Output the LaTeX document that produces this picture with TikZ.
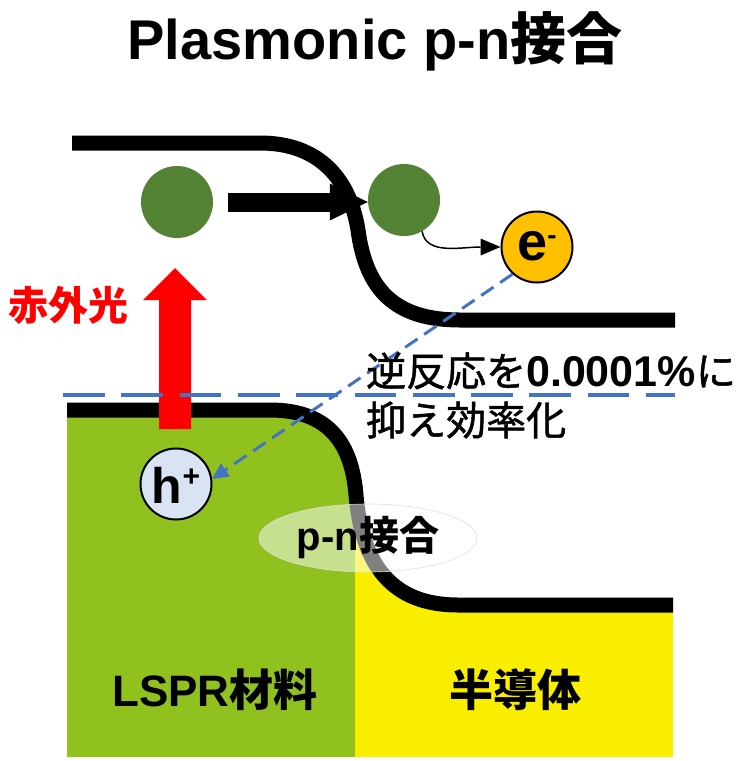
\documentclass[tikz,border=0pt]{standalone}
\usepackage{fontspec}
\setmainfont{Liberation Sans}
\newfontfamily\jp{Noto Sans CJK JP}
\newfontfamily\jpm{Noto Sans CJK JP}[FakeBold=1.2]
\usetikzlibrary{arrows.meta,shapes.geometric}
\definecolor{circgreen}{RGB}{84,130,53}
\definecolor{lsprgreen}{RGB}{144,193,31}
\definecolor{semiyellow}{RGB}{250,238,0}
\definecolor{bluec}{RGB}{68,114,196}
\definecolor{eorange}{RGB}{255,192,0}
\definecolor{hblue}{RGB}{218,227,243}
\tikzset{
  band/.style={line width=15pt, black},
  ball/.style={circle, fill=circgreen, minimum size=72pt, inner sep=0pt},
  carrier/.style={circle, draw=black, line width=2pt, minimum size=71pt, inner sep=0pt},
  blueline/.style={bluec, line width=3pt, dash pattern=on 15pt off 8pt},
}
\begin{document}
\begin{tikzpicture}[x=1pt,y=-1pt]
\useasboundingbox (0,0) rectangle (750,761);

% fills of the lower structure
\begin{scope}
  \clip (0,0) rectangle (355,761);
  \fill[lsprgreen] (67,410) -- (270,410) .. controls (330,410) and (352,445) .. (356,495)
    .. controls (362,565) and (392,605) .. (458,605) -- (673,605) -- (673,757) -- (67,757) -- cycle;
\end{scope}
\begin{scope}
  \clip (355,0) rectangle (750,761);
  \fill[semiyellow] (67,410) -- (270,410) .. controls (330,410) and (352,445) .. (356,495)
    .. controls (362,565) and (392,605) .. (458,605) -- (673,605) -- (673,757) -- (67,757) -- cycle;
\end{scope}

% bands
\draw[band] (72,143) -- (260,143) .. controls (320,143) and (350,180) .. (358,230)
  .. controls (366,290) and (395,320) .. (460,320) -- (675,320);
\draw[band] (67,410) -- (270,410) .. controls (330,410) and (352,445) .. (356,495)
  .. controls (362,565) and (392,605) .. (458,605) -- (673,605);

% red infrared arrow
\fill[red] (159,429) -- (159,300) -- (143,300) -- (175,268) -- (207,300) -- (191,300) -- (191,429) -- cycle;

% horizontal dashed level
\draw[bluec, line width=4.5pt, dash pattern=on 41.7pt off 16.6pt] (63,395) -- (675,395);

% p-n junction ellipse
\node[ellipse, draw=gray!25, line width=0.6pt, fill=white, fill opacity=0.5, text opacity=1,
      minimum width=218pt, minimum height=68pt, inner sep=0pt,
      font=\bfseries\fontsize{40}{40}\selectfont] (pn) at (368,538) {p-n{\jp 接合}};

% balls
\node[ball] (g1) at (177,202) {};
\node[ball] (g2) at (404,200) {};

% carriers
\node[carrier, fill=eorange, text height=26pt, text depth=0pt,
      font=\bfseries\fontsize{54}{54}\selectfont] (e) at (537,247)
      {e\raisebox{15.5pt}{\fontsize{28}{28}\selectfont -}};
\node[carrier, fill=hblue, text height=38pt, text depth=0pt,
      font=\bfseries\fontsize{50}{50}\selectfont] (h) at (176,484)
      {h\raisebox{16.5pt}{\fontsize{30}{30}\selectfont +}};

% arrows
\draw[line width=19pt, shorten <=15pt, -{Triangle[length=38pt,width=37pt,line width=0pt]}]
  (g1.east) -- (g1.east -| g2.west);
\draw[line width=1.5pt, -{Triangle[length=20pt,width=17pt,line width=0pt]}]
  (g2.-60) .. controls +(4,24) and +(-40,0) .. (e.west);
\draw[blueline, -{Triangle[length=16pt,width=16pt,line width=0pt]}] (e.228) -- (h.8);

% texts
\node[font=\bfseries\fontsize{56}{60}\selectfont] (title) at (375,41) {Plasmonic p-n{\jp 接合}};
\node[text=red, font=\jp\bfseries\fontsize{40}{40}\selectfont] (ir) at (69,305) {赤外光};
\node[anchor=base west, inner sep=0pt, font=\fontsize{40}{40}\selectfont] (t1) at (366,386)
  {{\jpm 逆反応を}{\bfseries\fontsize{43}{43}\selectfont 0.0001\%}{\jpm に}};
\node[anchor=west, inner sep=0pt, font=\jpm\fontsize{40}{40}\selectfont] (t2) at (366,420) {抑え効率化};
\node[font=\bfseries\fontsize{44}{44}\selectfont] (lspr) at (215,690) {LSPR{\jp 材料}};
\node[font=\jp\bfseries\fontsize{44}{44}\selectfont] (semi) at (515,690) {半導体};
\end{tikzpicture}
\end{document}
